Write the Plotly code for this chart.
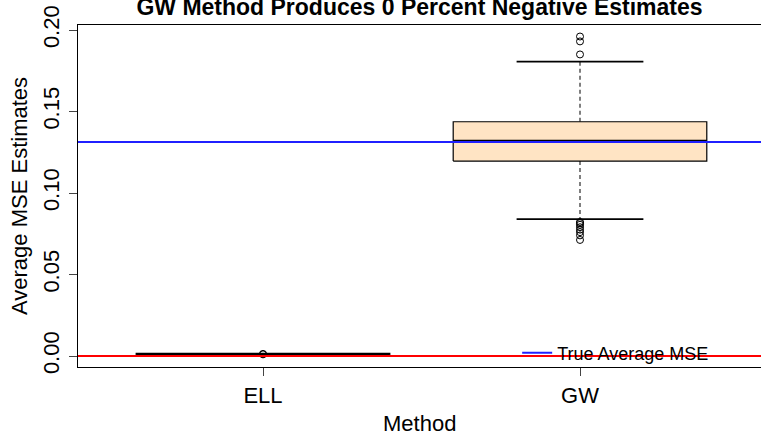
import plotly.graph_objects as go

# ---- data ----
methods = ["ELL", "GW"]
positions = [1, 2]
q1 = [0.0003, 0.1196]
median = [0.0009, 0.1317]
q3 = [0.0016, 0.1437]
whisker_lo = [0.0003, 0.0840]
whisker_hi = [0.0016, 0.1806]
outliers = [
    [0.0010, 0.0013],
    [0.196, 0.193, 0.185, 0.0822, 0.0815, 0.0805, 0.079, 0.0775, 0.076, 0.074, 0.0712],
]
true_avg_mse = 0.1313
zero_line = 0.0
y_ticks = [0.00, 0.05, 0.10, 0.15, 0.20]
y_tick_labels = ["0.00", "0.05", "0.10", "0.15", "0.20"]

FONT = "Liberation Sans, Arial, sans-serif"
BOX_HALF = 0.4
CAP_HALF = 0.2
X_RANGE = [0.4164, 2.571]
Y_RANGE = [-0.00675, 0.20307]

fig = go.Figure()

for i, m in enumerate(methods):
    p = positions[i]
    # whiskers (dashed) and caps, only where the whisker reaches beyond the box
    for edge, w in ((q3[i], whisker_hi[i]), (q1[i], whisker_lo[i])):
        if w == edge:
            continue
        fig.add_trace(go.Scatter(x=[p, p], y=[edge, w], mode="lines",
                                 line=dict(color="#555555", width=1.5, dash="4px,3px"),
                                 showlegend=False, hoverinfo="skip"))
        fig.add_trace(go.Scatter(x=[p - CAP_HALF, p + CAP_HALF], y=[w, w], mode="lines",
                                 line=dict(color="black", width=1.6),
                                 showlegend=False, hoverinfo="skip"))
    # box
    fig.add_trace(go.Scatter(
        x=[p - BOX_HALF, p + BOX_HALF, p + BOX_HALF, p - BOX_HALF, p - BOX_HALF],
        y=[q1[i], q1[i], q3[i], q3[i], q1[i]],
        mode="lines", fill="toself", fillcolor="#FFE4C4",
        line=dict(color="black", width=1.2), showlegend=False, hoverinfo="skip"))
    # median
    fig.add_trace(go.Scatter(x=[p - BOX_HALF, p + BOX_HALF], y=[median[i], median[i]],
                             mode="lines", line=dict(color="black", width=3.2),
                             showlegend=False, hoverinfo="skip"))
    # outliers
    fig.add_trace(go.Scatter(x=[p] * len(outliers[i]), y=outliers[i], mode="markers",
                             marker=dict(symbol="circle-open", size=7, color="black",
                                         line=dict(width=1)),
                             showlegend=False, hoverinfo="skip"))

# reference lines
fig.add_trace(go.Scatter(x=X_RANGE, y=[true_avg_mse, true_avg_mse], mode="lines",
                         line=dict(color="#2020FF", width=2), name="True Average MSE",
                         showlegend=True, hoverinfo="skip"))
fig.add_trace(go.Scatter(x=X_RANGE, y=[zero_line, zero_line], mode="lines",
                         line=dict(color="#FF0000", width=2), showlegend=False,
                         hoverinfo="skip"))

fig.update_layout(
    width=761, height=437,
    margin=dict(l=78, r=0, t=25, b=70),
    paper_bgcolor="white", plot_bgcolor="white",
    font=dict(family=FONT, color="black", size=22),
    title=dict(text="<b>GW Method Produces 0 Percent Negative Estimates</b>",
               font=dict(family=FONT, size=23, color="black"),
               x=0.5, xref="paper", xanchor="center",
               y=0.9847, yref="container", yanchor="middle"),
    showlegend=True,
    legend=dict(x=0.643, y=0.041, xanchor="left", yanchor="middle",
                bgcolor="rgba(0,0,0,0)", borderwidth=0,
                font=dict(family=FONT, size=18, color="black")),
    xaxis=dict(range=X_RANGE, tickvals=positions, ticktext=methods,
               showgrid=False, zeroline=False, showline=True, mirror=True,
               linecolor="black", linewidth=1, ticks="outside", ticklen=8,
               tickcolor="#444444", tickwidth=1, ticklabelstandoff=1,
               tickfont=dict(family=FONT, size=22)),
    yaxis=dict(range=Y_RANGE, tickvals=y_ticks, ticktext=y_tick_labels,
               showgrid=False, zeroline=False, showline=True, mirror=False,
               linecolor="black", linewidth=1, ticks="outside", ticklen=8,
               tickcolor="#444444", tickwidth=1, tickangle=-90, ticklabelstandoff=1,
               tickfont=dict(family=FONT, size=22)),
    annotations=[
        dict(text="Average MSE Estimates", xref="paper", yref="paper",
             x=-0.0864, y=0.5, textangle=-90, showarrow=False,
             xanchor="center", yanchor="middle", font=dict(family=FONT, size=22)),
        dict(text="Method", xref="paper", yref="paper",
             x=0.5, y=-0.1652, showarrow=False,
             xanchor="center", yanchor="middle", font=dict(family=FONT, size=22)),
    ],
)

fig.write_html("out.html")
